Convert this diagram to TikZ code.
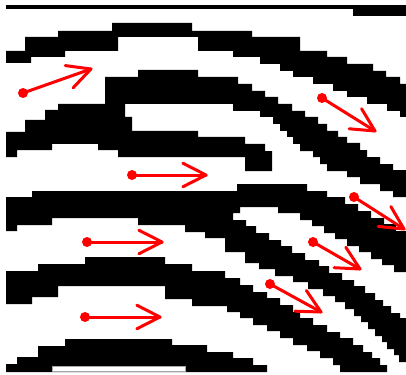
\documentclass[tikz,border=0pt]{standalone}
\usetikzlibrary{calc}
\tikzset{
  ridge/.style={fill=black},
  arrowline/.style={draw=red, line width=3pt, line cap=round, line join=round},
  arrowdot/.style={fill=red},
}
\begin{document}
\begin{tikzpicture}[x=1pt,y=-1pt]
\useasboundingbox (0,0) rectangle (406,374);
\fill[white] (0,0) rectangle (406,374);
% top bar
\fill[ridge] (6,5) rectangle (406,9.3);
\fill[ridge] (353,5) rectangle (406,16);
% ridge A
\fill[ridge] (6,51) -- (25,51) -- (25,37) -- (58,37) -- (58,31) -- (112,31) -- (112,23) -- (192,23) -- (192,31) -- (252,31) -- (252,37) -- (300,37) -- (300,51) -- (327,51) -- (327,57) -- (347,57) -- (347,64) -- (373,64) -- (373,71) -- (386,71) -- (386,77) -- (400,77) -- (400,84) -- (406,84) -- (406,117) -- (400,117) -- (400,111) -- (387,111) -- (387,104) -- (367,104) -- (367,97) -- (347,97) -- (347,91) -- (333,91) -- (333,84) -- (313,84) -- (313,77) -- (293,77) -- (293,71) -- (280,71) -- (280,64) -- (260,64) -- (260,57) -- (233,57) -- (233,51) -- (198,51) -- (198,37) -- (118,37) -- (118,51) -- (65,51) -- (65,57) -- (31,57) -- (31,63) -- (6,63) -- cycle;
% ridge B (with fork)
\fill[ridge] (6,132) -- (25,132) -- (25,120) -- (45,120) -- (45,110) -- (58,110) -- (58,104) -- (105,104) -- (105,77) -- (138,77) -- (138,70) -- (198,70) -- (198,77) -- (238,77) -- (238,84) -- (252,84) -- (252,91) -- (265,91) -- (265,97) -- (278,97) -- (278,104) -- (292,104) -- (292,111) -- (305,111) -- (305,117) -- (318,117) -- (318,124) -- (327,124) -- (327,131) -- (338,131) -- (338,137) -- (347,137) -- (347,143) -- (360,143) -- (360,150) -- (367,150) -- (367,157) -- (380,157) -- (380,164) -- (393,164) -- (393,170) -- (406,170) -- (406,197) -- (393,197) -- (393,191) -- (380,191) -- (380,184) -- (360,184) -- (360,177) -- (347,177) -- (347,171) -- (327,171) -- (327,164) -- (320,164) -- (320,157) -- (313,157) -- (313,151) -- (300,151) -- (300,144) -- (293,144) -- (293,137) -- (287,137) -- (287,131) -- (280,131) -- (280,124) -- (273,124) -- (273,117) -- (260,117) -- (260,111) -- (233,111) -- (233,104) -- (125,104) -- (125,117) -- (132,117) -- (132,131) -- (198,131) -- (198,137) -- (245,137) -- (245,144) -- (265,144) -- (265,151) -- (272,151) -- (272,171) -- (245,171) -- (245,157) -- (118,157) -- (118,150) -- (98,150) -- (98,144) -- (52,144) -- (52,150) -- (17,150) -- (17,157) -- (6,157) -- cycle;
% ridge C (with fork)
\fill[ridge] (6,197) -- (32,197) -- (32,191) -- (237,191) -- (237,184) -- (307,184) -- (307,191) -- (327,191) -- (327,197) -- (345,197) -- (345,204) -- (358,204) -- (358,211) -- (371,211) -- (371,218) -- (384,218) -- (384,224) -- (396,224) -- (396,231) -- (406,231) -- (406,272) -- (394,272) -- (394,265) -- (382,265) -- (382,259) -- (371,259) -- (371,252) -- (359,252) -- (359,246) -- (347,246) -- (347,239) -- (335,239) -- (335,233) -- (324,233) -- (324,226) -- (312,226) -- (312,220) -- (300,220) -- (300,213) -- (278,213) -- (278,207) -- (240,207) -- (240,213) -- (233,213) -- (233,220) -- (246,220) -- (246,226) -- (256,226) -- (256,233) -- (269,233) -- (269,240) -- (281,240) -- (281,246) -- (292,246) -- (292,253) -- (305,253) -- (305,260) -- (319,260) -- (319,266) -- (329,266) -- (329,273) -- (342,273) -- (342,280) -- (354,280) -- (354,286) -- (365,286) -- (365,293) -- (375,293) -- (375,300) -- (383,300) -- (383,306) -- (391,306) -- (391,313) -- (400,313) -- (400,318) -- (406,318) -- (406,362) -- (399,362) -- (399,355) -- (394,355) -- (394,349) -- (387,349) -- (387,342) -- (382,342) -- (382,336) -- (375,336) -- (375,329) -- (368,329) -- (368,322) -- (361,322) -- (361,316) -- (354,316) -- (354,309) -- (345,309) -- (345,302) -- (335,302) -- (335,296) -- (323,296) -- (323,289) -- (308,289) -- (308,282) -- (293,282) -- (293,276) -- (275,276) -- (275,269) -- (259,269) -- (259,263) -- (245,263) -- (245,252) -- (225,252) -- (225,238) -- (205,238) -- (205,232) -- (185,232) -- (185,225) -- (138,225) -- (138,218) -- (52,218) -- (52,225) -- (17,225) -- (17,231) -- (6,231) -- cycle;
% ridge D
\fill[ridge] (6,271) -- (38,271) -- (38,264) -- (85,264) -- (85,257) -- (165,257) -- (165,264) -- (192,264) -- (192,271) -- (225,271) -- (225,278) -- (240,278) -- (240,285) -- (253,285) -- (253,292) -- (267,292) -- (267,298) -- (280,298) -- (280,305) -- (293,305) -- (293,312) -- (300,312) -- (300,318) -- (313,318) -- (313,325) -- (327,325) -- (327,332) -- (340,332) -- (340,338) -- (353,338) -- (353,345) -- (363,345) -- (363,352) -- (372,352) -- (372,358) -- (380,358) -- (380,365) -- (387,365) -- (387,372) -- (340,372) -- (340,365) -- (333,365) -- (333,358) -- (320,358) -- (320,351) -- (307,351) -- (307,345) -- (293,345) -- (293,338) -- (280,338) -- (280,331) -- (267,331) -- (267,325) -- (253,325) -- (253,318) -- (240,318) -- (240,312) -- (227,312) -- (227,306) -- (192,306) -- (192,299) -- (165,299) -- (165,286) -- (58,286) -- (58,297) -- (32,297) -- (32,304) -- (6,304) -- cycle;
% ridge E
\fill[ridge] (6,364) -- (17,364) -- (17,357) -- (38,357) -- (38,346) -- (65,346) -- (65,339) -- (172,339) -- (172,345) -- (207,345) -- (207,352) -- (233,352) -- (233,358) -- (253,358) -- (253,365) -- (267,365) -- (267,372) -- (6,372) -- cycle;
% bottom white bar
\draw[gray!70, fill=white, line width=0.6pt] (52,366.5) rectangle (185,371.5);
% arrows
\coordinate (t1) at (23,93);   \coordinate (h1) at (91,69);
\coordinate (t2) at (322,98);  \coordinate (h2) at (375,131);
\coordinate (t3) at (132,175); \coordinate (h3) at (206,175);
\coordinate (t4) at (354,197); \coordinate (h4) at (404,229);
\coordinate (t5) at (87,242);  \coordinate (h5) at (162,242);
\coordinate (t6) at (313,242); \coordinate (h6) at (360,269);
\coordinate (t7) at (270,284); \coordinate (h7) at (321,312);
\coordinate (t8) at (85,317);  \coordinate (h8) at (160,317);
\foreach \ta/\hd in {t1/h1,t2/h2,t3/h3,t4/h4,t5/h5,t6/h6,t7/h7,t8/h8}{
  \draw[arrowline] (\ta) -- (\hd);
  \draw[arrowline] ($(\hd)!26pt!27:(\ta)$) -- (\hd) -- ($(\hd)!26pt!-27:(\ta)$);
  \fill[arrowdot] (\ta) circle (5pt);
}
\end{tikzpicture}
\end{document}
